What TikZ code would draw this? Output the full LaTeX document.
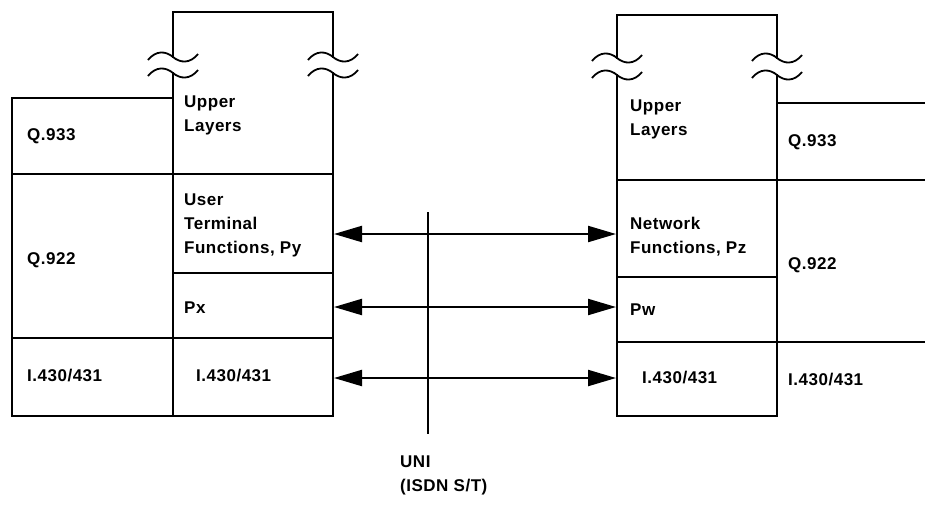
\documentclass[tikz,border=0pt]{standalone}
\usepackage{fontspec}
\setmainfont{Liberation Sans}[LetterSpace=3]
\usetikzlibrary{arrows.meta}
\begin{document}
\begin{tikzpicture}[x=1pt,y=-1pt,
  box/.style={line width=2pt,line cap=rect},
  lbl/.style={anchor=west,inner sep=0pt,align=left,font=\fontsize{17}{24}\selectfont\bfseries},
  wave/.style={line width=1.8pt},
  link/.style={line width=2.2pt,{Triangle[length=28pt,width=16pt]}-{Triangle[length=28pt,width=16pt]}},
  uni/.style={line width=1.5pt}]
\useasboundingbox (0,0) rectangle (925,507);
% ---------- left stack ----------
\draw[box] (173,57) -- (173,12) -- (333,12) -- (333,57);
\draw[box] (173,73) -- (173,416);
\draw[box] (333,73) -- (333,416);
\draw[box] (173,98) -- (12,98) -- (12,416) -- (333,416);
\draw[box] (12,174) -- (333,174);
\draw[box] (173,273) -- (333,273);
\draw[box] (12,338) -- (333,338);
\foreach \cx/\cy in {173/57,173/73,333/57,333/73}
  \draw[wave] (\cx-25,\cy+3) .. controls (\cx-17,\cy-7) and (\cx-7,\cy-6) .. (\cx,\cy)
     .. controls (\cx+7,\cy+6) and (\cx+17,\cy+7) .. (\cx+25,\cy-3);
% ---------- right stack ----------
\draw[box] (617,58) -- (617,15) -- (777,15) -- (777,58);
\draw[box] (617,75) -- (617,416) -- (777,416);
\draw[box] (777,75) -- (777,416);
\draw[box] (777,103) -- (925,103);
\draw[box] (617,180) -- (925,180);
\draw[box] (617,277) -- (777,277);
\draw[box] (617,342) -- (925,342);
\foreach \cx/\cy in {617/58,617/75,777/58,777/75}
  \draw[wave] (\cx-25,\cy+3) .. controls (\cx-17,\cy-7) and (\cx-7,\cy-6) .. (\cx,\cy)
     .. controls (\cx+7,\cy+6) and (\cx+17,\cy+7) .. (\cx+25,\cy-3);
% ---------- labels left ----------
\node[lbl] (lq933) at (27,136) {Q.933};
\node[lbl] (lq922) at (27,260) {Q.922};
\node[lbl] (li430a) at (27,375) {I.430/431};
\node[lbl] (lupper) at (184,115) {Upper\\Layers};
\node[lbl] (lpy) at (184,225) {User\\Terminal\\Functions, Py};
\node[lbl] (lpx) at (184,308) {Px};
\node[lbl] (li430b) at (196,375) {I.430/431};
% ---------- labels right ----------
\node[lbl] (rupper) at (630,119) {Upper\\Layers};
\node[lbl] (rq933) at (788,142) {Q.933};
\node[lbl] (rpz) at (630,237) {Network\\Functions, Pz};
\node[lbl] (rq922) at (788,265) {Q.922};
\node[lbl] (rpw) at (630,310) {Pw};
\node[lbl] (ri430a) at (642,378) {I.430/431};
\node[lbl] (ri430b) at (788,380) {I.430/431};
% ---------- connectors ----------
\coordinate (py) at (334,234);
\coordinate (pz) at (616,234);
\coordinate (px) at (334,307);
\coordinate (pw) at (616,307);
\coordinate (l1) at (334,378);
\coordinate (r1) at (616,378);
\draw[link] (py) -- (pz);
\draw[link] (px) -- (pw);
\draw[link] (l1) -- (r1);
\coordinate (utop) at (428,212);
\coordinate (ubot) at (428,434);
\draw[uni] (utop) -- (ubot);
\node[lbl] (unilbl) at (400,475) {UNI\\(ISDN S/T)};
\end{tikzpicture}
\end{document}
